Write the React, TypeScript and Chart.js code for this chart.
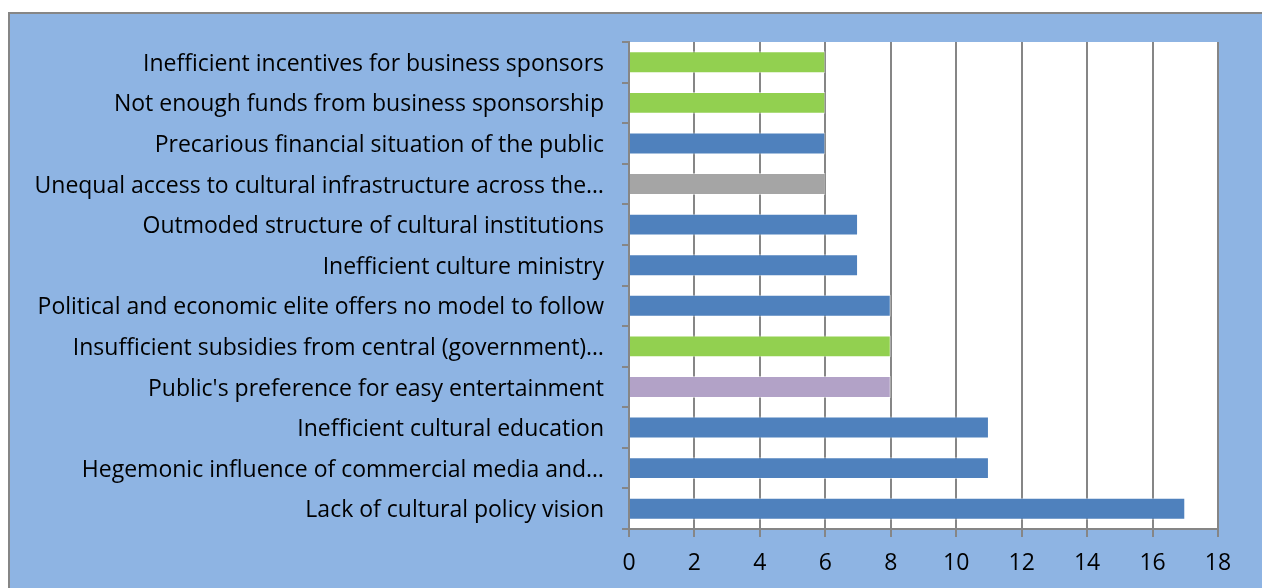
import React, { useEffect, useRef } from "react";
import { Chart, registerables } from "chart.js";

Chart.register(...registerables);

const categories = [
  "Inefficient incentives for business sponsors",
  "Not enough funds from business sponsorship",
  "Precarious financial situation of the public",
  "Unequal access to cultural infrastructure across the…",
  "Outmoded structure of cultural institutions",
  "Inefficient culture ministry",
  "Political and economic elite offers no model to follow",
  "Insufficient subsidies from central (government)…",
  "Public's preference for easy entertainment",
  "Inefficient cultural education",
  "Hegemonic influence of commercial media and…",
  "Lack of cultural policy vision",
];
const values = [6, 6, 6, 6, 7, 7, 8, 8, 8, 11, 11, 17];
const barColors = [
  "#92D050", "#92D050", "#4F81BD", "#A5A5A5", "#4F81BD", "#4F81BD",
  "#4F81BD", "#92D050", "#B2A2C7", "#4F81BD", "#4F81BD", "#4F81BD",
];
const xMin = 0;
const xMax = 18;
const xStep = 2;

const FONT = "'Open Sans', Lato, sans-serif";

const bgPlugin = {
  id: "bgPlugin",
  beforeDraw(chart: any) {
    const { ctx, width, height, chartArea } = chart;
    ctx.save();
    ctx.fillStyle = "#ffffff";
    ctx.fillRect(0, 0, width, height);
    ctx.fillStyle = "#8EB4E3";
    ctx.fillRect(9, 13, width - 9, height - 13);
    ctx.strokeStyle = "#868686";
    ctx.lineWidth = 2;
    ctx.beginPath();
    ctx.moveTo(9, height + 2);
    ctx.lineTo(9, 13);
    ctx.lineTo(width, 13);
    ctx.stroke();
    ctx.fillStyle = "#ffffff";
    ctx.fillRect(chartArea.left, chartArea.top, chartArea.right - chartArea.left, chartArea.bottom - chartArea.top);
    ctx.restore();
  },
};

export default function App() {
  const ref = useRef<HTMLCanvasElement | null>(null);
  useEffect(() => {
    if (!ref.current) return;
    const chart = new Chart(ref.current, {
      type: "bar",
      data: {
        labels: categories,
        datasets: [
          {
            data: values,
            backgroundColor: barColors,
            borderColor: "rgba(255,255,255,0.5)",
            borderWidth: 1,
            categoryPercentage: 1,
            barPercentage: 0.54,
          },
        ],
      },
      options: {
        indexAxis: "y",
        animation: false,
        responsive: false,
        maintainAspectRatio: false,
        layout: { padding: { top: 42, right: 44, left: 0, bottom: 0 } },
        plugins: { legend: { display: false }, tooltip: { enabled: false } },
        scales: {
          x: {
            min: xMin,
            max: xMax,
            ticks: {
              stepSize: xStep,
              color: "#000000",
              font: { family: FONT, size: 23 },
              padding: 13,
            },
            grid: {
              color: "#868686",
              lineWidth: 2,
              tickLength: 8,
              drawTicks: true,
            },
            border: { display: true, color: "#868686", width: 2 },
            afterFit(scale: any) {
              scale.height = 59;
            },
          },
          y: {
            ticks: {
              color: "#000000",
              font: { family: FONT, size: 23 },
              padding: 18,
              labelOffset: 2,
              autoSkip: false,
            },
            grid: {
              drawOnChartArea: false,
              color: "#868686",
              lineWidth: 2,
              tickLength: 7,
              offset: true,
            },
            border: { display: true, color: "#868686", width: 2 },
            afterFit(scale: any) {
              scale.width = 629;
            },
          },
        },
      },
      plugins: [bgPlugin],
    });
    return () => chart.destroy();
  }, []);
  return (
    <div style={{ position: "fixed", left: 0, top: 0, width: 1262, height: 588 }}>
      <canvas ref={ref} width={1262} height={588} style={{ display: "block" }} />
    </div>
  );
}
